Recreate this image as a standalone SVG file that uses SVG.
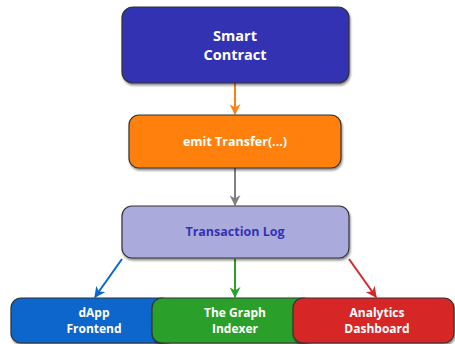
<svg xmlns="http://www.w3.org/2000/svg" width="455" height="344" viewBox="0 0 455 344">
<defs>
<filter id="sh" x="-10%" y="-10%" width="130%" height="140%">
<feGaussianBlur in="SourceAlpha" stdDeviation="1"/>
<feOffset dx="1" dy="1.5" result="o"/>
<feComponentTransfer><feFuncA type="linear" slope="0.45"/></feComponentTransfer>
<feMerge><feMergeNode/><feMergeNode in="SourceGraphic"/></feMerge>
</filter>
<marker id="ao" viewBox="0 0 10 10" refX="9" refY="5" markerWidth="11" markerHeight="11" markerUnits="userSpaceOnUse" orient="auto"><path d="M0,0 L10,5 L0,10 L3,5 Z" fill="#ff8010"/></marker>
<marker id="ag" viewBox="0 0 10 10" refX="9" refY="5" markerWidth="11" markerHeight="11" markerUnits="userSpaceOnUse" orient="auto"><path d="M0,0 L10,5 L0,10 L3,5 Z" fill="#808080"/></marker>
<marker id="ab" viewBox="0 0 10 10" refX="9" refY="5" markerWidth="11" markerHeight="11" markerUnits="userSpaceOnUse" orient="auto"><path d="M0,0 L10,5 L0,10 L3,5 Z" fill="#0a66cc"/></marker>
<marker id="agr" viewBox="0 0 10 10" refX="9" refY="5" markerWidth="11" markerHeight="11" markerUnits="userSpaceOnUse" orient="auto"><path d="M0,0 L10,5 L0,10 L3,5 Z" fill="#2ca02c"/></marker>
<marker id="ar" viewBox="0 0 10 10" refX="9" refY="5" markerWidth="11" markerHeight="11" markerUnits="userSpaceOnUse" orient="auto"><path d="M0,0 L10,5 L0,10 L3,5 Z" fill="#d62728"/></marker>
</defs>
<style>
.box{stroke:#333;stroke-width:1.2;filter:url(#sh)}
.t{font-family:"Open Sans","DejaVu Sans",sans-serif;font-weight:bold;text-anchor:middle;fill:#fff}
.c{fill:none;stroke-width:2}
</style>
<g id="connectors">
<line class="c" x1="235" y1="83" x2="235" y2="114" stroke="#ff8010" marker-end="url(#ao)"/>
<line class="c" x1="235" y1="168" x2="235" y2="205" stroke="#808080" marker-end="url(#ag)"/>
<line class="c" x1="122" y1="259" x2="95" y2="297" stroke="#0a66cc" marker-end="url(#ab)"/>
<line class="c" x1="235" y1="259" x2="235" y2="297" stroke="#2ca02c" marker-end="url(#agr)"/>
<line class="c" x1="349" y1="259" x2="376" y2="297" stroke="#d62728" marker-end="url(#ar)"/>
</g>
<g id="smart-contract">
<rect class="box" x="122" y="7" width="227" height="76" rx="11" fill="#3333b2"/>
<text class="t" x="235" y="41" font-size="14.5">Smart</text>
<text class="t" x="235" y="60" font-size="14.5">Contract</text>
</g>
<g id="emit-transfer">
<rect class="box" x="129" y="115" width="212" height="53" rx="10" fill="#ff8010"/>
<text class="t" x="235" y="146" font-size="12.5">emit Transfer(...)</text>
</g>
<g id="transaction-log">
<rect class="box" x="122" y="206" width="227" height="52" rx="10" fill="#aaaadd"/>
<text class="t" x="235" y="236" font-size="12.5" style="fill:#3333b2">Transaction Log</text>
</g>
<g id="dapp-frontend">
<rect class="box" x="11" y="298" width="161" height="45" rx="10" fill="#0a66cc"/>
<text class="t" x="94" y="317" font-size="12">dApp</text>
<text class="t" x="94" y="333" font-size="12">Frontend</text>
</g>
<g id="graph-indexer">
<rect class="box" x="152" y="298" width="161" height="45" rx="10" fill="#2ca02c"/>
<text class="t" x="235" y="317" font-size="12">The Graph</text>
<text class="t" x="235" y="333" font-size="12">Indexer</text>
</g>
<g id="analytics-dashboard">
<rect class="box" x="293" y="298" width="161" height="45" rx="10" fill="#d62728"/>
<text class="t" x="377" y="317" font-size="12">Analytics</text>
<text class="t" x="377" y="333" font-size="12">Dashboard</text>
</g>
</svg>
